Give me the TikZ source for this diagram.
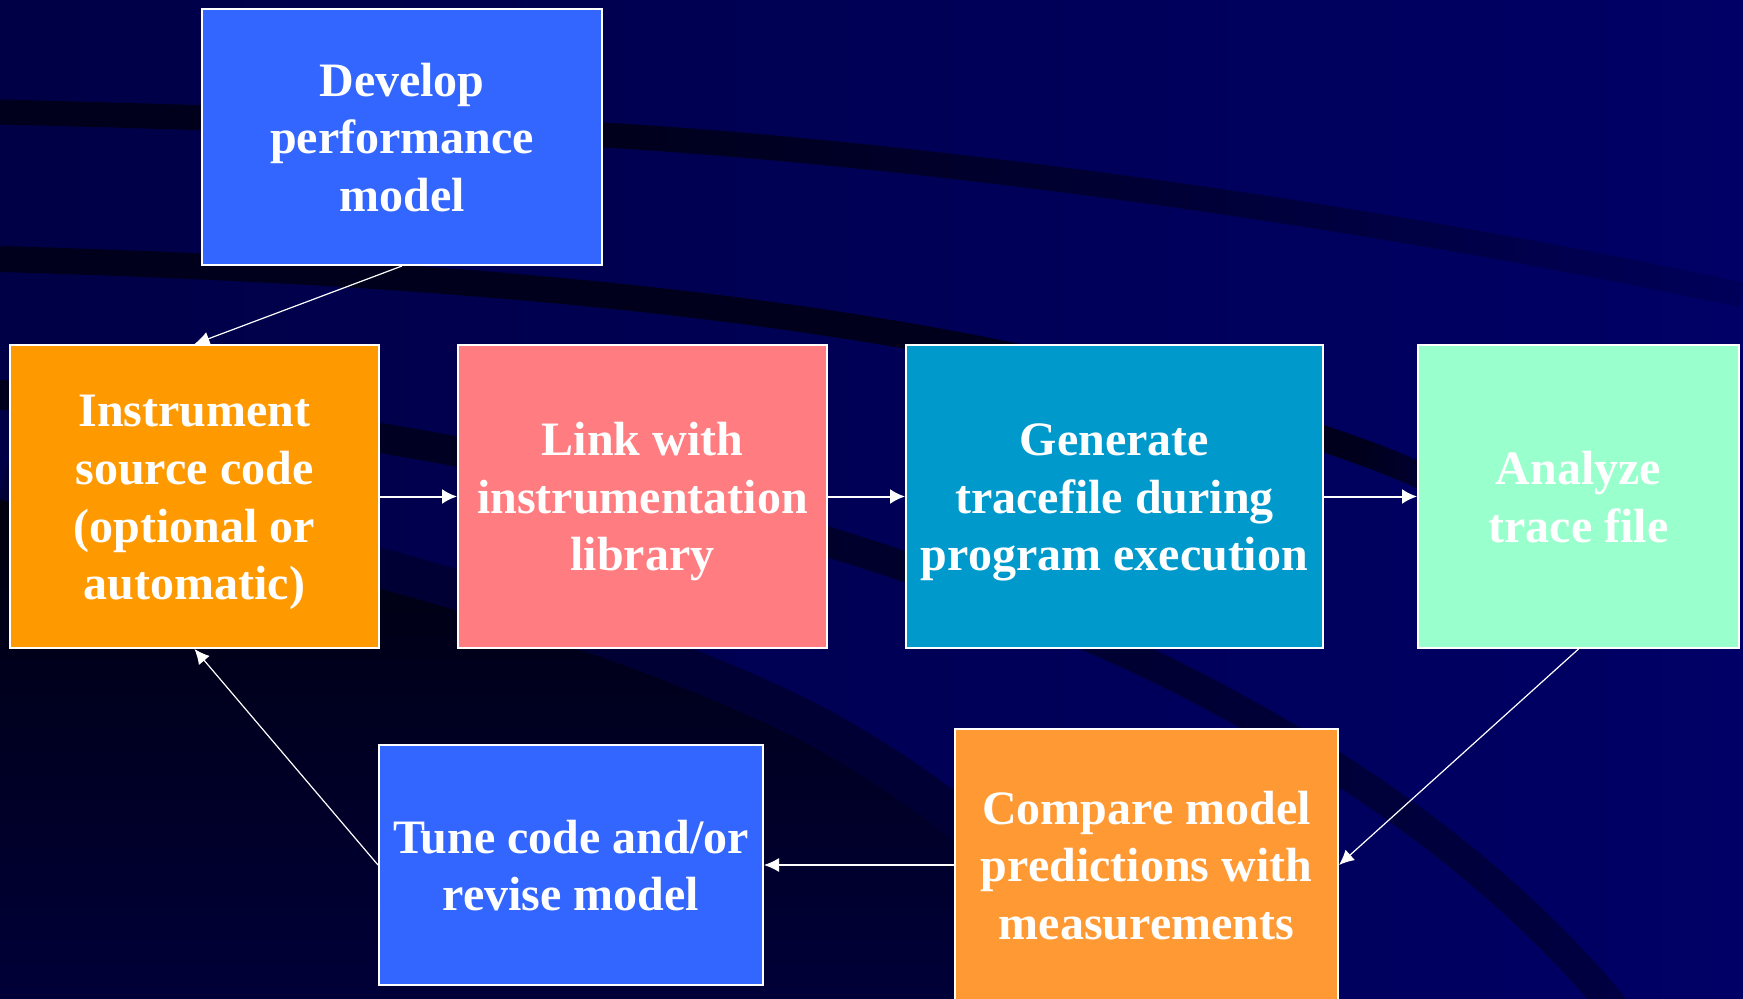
\documentclass[tikz,border=0pt]{standalone}
\usepackage{fontspec}
\setmainfont{Liberation Serif}
\usetikzlibrary{arrows.meta,fadings}
\definecolor{bgL}{HTML}{000046}
\definecolor{bgR}{HTML}{000066}
\definecolor{swoosh}{HTML}{00001C}
\definecolor{midband}{HTML}{000034}
\definecolor{dTop}{HTML}{00000E}
\definecolor{dBot}{HTML}{00003C}
\definecolor{cblue}{HTML}{3366FF}
\definecolor{corange}{HTML}{FF9900}
\definecolor{cpink}{HTML}{FF7C80}
\definecolor{cteal}{HTML}{0099CC}
\definecolor{cmint}{HTML}{99FFCC}
\definecolor{corangeb}{HTML}{FF9933}
\tikzfading[name=fadeR, left color=transparent!0, right color=transparent!100]
\tikzfading[name=fadeRp, left color=transparent!0, right color=transparent!85]
\tikzfading[name=fadeRh, left color=transparent!0, right color=transparent!55]
\newcommand{\topst}{\rule{0pt}{22pt}}
\newcommand{\botst}{\rule[-5.2pt]{0pt}{5.2pt}}
\tikzset{
  box/.style={draw=white, line width=1pt, text=white, align=center, inner sep=0pt,
    font=\bfseries\fontsize{24}{28.8}\selectfont},
  arr/.style={draw=white, line width=1pt, -{Latex[length=7.5pt,width=7.5pt]}},
  arrthin/.style={draw=white, line width=0.6pt, -{Latex[length=7.5pt,width=7pt]}}
}
\begin{document}
\begin{tikzpicture}[x=0.5pt,y=-0.5pt]
\useasboundingbox (0,0) rectangle (1743,999);
% background
\begin{scope}
\clip (0,0) rectangle (1743,999);
\shade[left color=bgL, right color=bgR] (0,0) rectangle (1743,999);
% swoosh 1
\draw[swoosh, line width=12.5pt] (0,112) .. controls (200,117) and (400,124) .. (602,135);
\draw[swoosh, line width=12.5pt, path fading=fadeRp] (602,135) .. controls (850,149) and (1300,200) .. (1743,295);
% swoosh 2
\draw[swoosh, line width=13pt] (0,259) .. controls (550,275) and (1000,320) .. (1370,455);
\draw[swoosh, line width=13pt, path fading=fadeR] (1370,455) .. controls (1450,485) and (1510,520) .. (1560,560);
% swoosh 3
\draw[swoosh, line width=15pt, path fading=fadeRh] (0,395) .. controls (350,415) and (800,500) .. (1150,663) .. controls (1350,760) and (1500,870) .. (1610,999) -- (1640,1040);
% dark lower-left region
\draw[midband, line width=40pt] (0,500) .. controls (300,560) and (600,640) .. (800,740) .. controls (950,820) and (1050,920) .. (1100,999) -- (1120,1040);
\shade[top color=dTop, bottom color=dBot] (0,500) .. controls (300,560) and (600,640) .. (800,740) .. controls (950,820) and (1050,920) .. (1100,999) -- (1120,1040) -- (0,1040) -- cycle;
\end{scope}
% boxes
\node[box, fill=cblue, minimum width=200pt, minimum height=128pt] (dev) at (402,137) {\topst Develop\\performance\\model\botst};
\node[box, fill=corange, minimum width=184.5pt, minimum height=151.5pt] (ins) at (194.5,496.5) {\topst Instrument\\source code\\(optional or\\automatic)\botst};
\node[box, fill=cpink, minimum width=184.5pt, minimum height=151.5pt] (lnk) at (642.5,496.5) {\topst Link with\\instrumentation\\library\botst};
\node[box, fill=cteal, minimum width=208.5pt, minimum height=151.5pt] (gen) at (1114.5,496.5) {\topst Generate\\tracefile during\\program execution\botst};
\node[box, fill=cmint, minimum width=160.5pt, minimum height=151.5pt] (ana) at (1578.5,496.5) {\topst Analyze\\trace file\botst};
\node[box, fill=corangeb, minimum width=191.5pt, minimum height=136pt] (cmp) at (1146.5,865) {\topst Compare model\\predictions with\\measurements\botst};
\node[box, fill=cblue, minimum width=192pt, minimum height=120pt] (tun) at (571,865) {\topst Tune code and/or\\revise model\botst};
% connectors
\draw[arrthin] (dev.south) -- (ins.north);
\draw[arr] (ins) -- (lnk);
\draw[arr] (lnk) -- (gen);
\draw[arr] (gen) -- (ana);
\draw[arrthin] (ana.south) -- (cmp.east);
\draw[arrthin] (cmp) -- (tun);
\draw[arrthin] (tun.west) -- (ins.south);
\end{tikzpicture}
\end{document}
